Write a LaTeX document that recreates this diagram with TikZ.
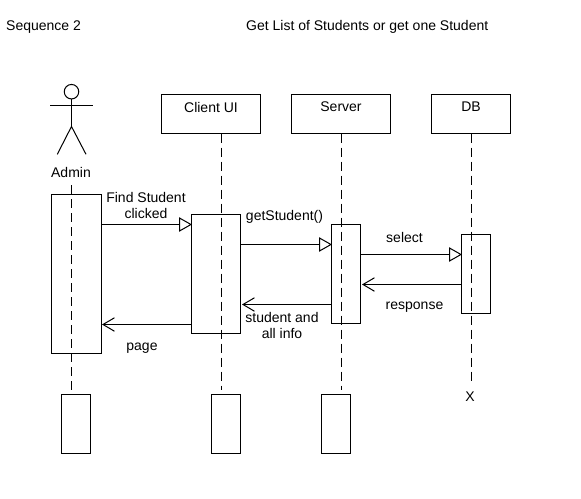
\documentclass[tikz,border=0pt]{standalone}
\usepackage{fontspec}
\setmainfont{Liberation Sans}
\usetikzlibrary{arrows.meta}
\tikzset{
  lbl/.style={inner sep=0pt,font=\fontsize{14}{16}\selectfont,align=center},
  box/.style={draw,line width=1pt,inner sep=0pt,outer sep=0pt,anchor=north west},
  life/.style={line width=1pt,dash pattern=on 9pt off 5pt},
  msg/.style={line width=1pt,-{Triangle[open,length=13pt,width=14.5pt]}},
  back/.style={line width=1pt,-{Straight Barb[length=11.5pt,width=13.5pt]}},
}
\begin{document}
\begin{tikzpicture}[x=1pt,y=-1pt]
\useasboundingbox (0,0) rectangle (581,498);
% titles
\node[lbl,anchor=west] (seq title) at (6,27) {Sequence 2};
\node[lbl,anchor=west] (get title) at (246,27) {Get List of Students or get one Student};
% actor
\node[draw,circle,line width=1pt,minimum size=14.5pt,inner sep=0pt,outer sep=0pt] (head) at (71.5,91.7) {};
\coordinate (hip) at (71.5,126.5);
\coordinate (arm l) at (50,105);
\coordinate (arm r) at (93,105);
\coordinate (leg l) at (57.3,154.3);
\coordinate (leg r) at (86,154.3);
\draw[line width=1pt] (head.south) -- (hip);
\draw[line width=1pt] (arm l) -- (arm r);
\draw[line width=1pt] (leg l) -- (hip) -- (leg r);
\node[lbl] (admin) at (71,172) {Admin};
% head boxes
\node[box,minimum width=99pt,minimum height=39pt] (client) at (161.5,94.5) {};
\node[box,minimum width=99pt,minimum height=39pt] (server) at (291.5,94.5) {};
\node[box,minimum width=79pt,minimum height=39pt] (db) at (431.5,94.5) {};
\node[lbl] (client lbl) at (211,107) {Client UI};
\node[lbl] (server lbl) at (341,107) {Server};
\node[lbl] (db lbl) at (471,107) {DB};
% activations
\node[box,minimum width=49.5pt,minimum height=159pt] (admin act) at (51.5,194.5) {};
\node[box,minimum width=49pt,minimum height=119pt] (client act) at (191.5,214.5) {};
\node[box,minimum width=29pt,minimum height=99pt] (server act) at (331.5,224.5) {};
\node[box,minimum width=29pt,minimum height=79pt] (db act) at (461.5,234.5) {};
% bottom boxes
\node[box,minimum width=29pt,minimum height=59pt] (admin end) at (61.5,394.5) {};
\node[box,minimum width=29pt,minimum height=59pt] (client end) at (211.5,394.5) {};
\node[box,minimum width=29pt,minimum height=59pt] (server end) at (321.5,394.5) {};
\node[lbl] (db end) at (470,397) {X};
% lifelines
\coordinate (admin top) at (71.5,185);
\coordinate (admin low) at (71.5,394);
\coordinate (client low) at (221.5,390);
\coordinate (server low) at (341.5,390);
\coordinate (db low) at (471.5,385);
\coordinate (client top) at (221.5,133.5);
\coordinate (server top) at (341.5,133.5);
\coordinate (db top) at (471.5,133.5);
\draw[life] (admin top) -- (admin low);
\draw[life] (client top) -- (client low);
\draw[life] (server top) -- (server low);
\draw[life] (db top) -- (db low);
% messages
\coordinate (find a) at (101,224.5);
\coordinate (find b) at (192,224.5);
\coordinate (get a) at (240.5,244.5);
\coordinate (get b) at (332,244.5);
\coordinate (sel a) at (360.5,254.5);
\coordinate (sel b) at (462,254.5);
\coordinate (resp a) at (461.5,284.5);
\coordinate (resp b) at (362,284.5);
\coordinate (stud a) at (331.5,304.5);
\coordinate (stud b) at (242,304.5);
\coordinate (page a) at (191.5,324.5);
\coordinate (page b) at (102,324.5);
\draw[msg] (find a) -- (find b);
\draw[msg] (get a) -- (get b);
\draw[msg] (sel a) -- (sel b);
\draw[back] (resp a) -- (resp b);
\draw[back] (stud a) -- (stud b);
\draw[back] (page a) -- (page b);
\node[lbl] (find lbl) at (146,205.5) {Find Student\\clicked};
\node[lbl] (get lbl) at (284.5,217) {getStudent()};
\node[lbl] (sel lbl) at (404.5,237.5) {select};
\node[lbl] (resp lbl) at (414.5,307.5) {response};
\node[lbl] (stud lbl) at (282,325) {student and\\all info};
\node[lbl] (page lbl) at (142,348) {page};
\end{tikzpicture}
\end{document}
